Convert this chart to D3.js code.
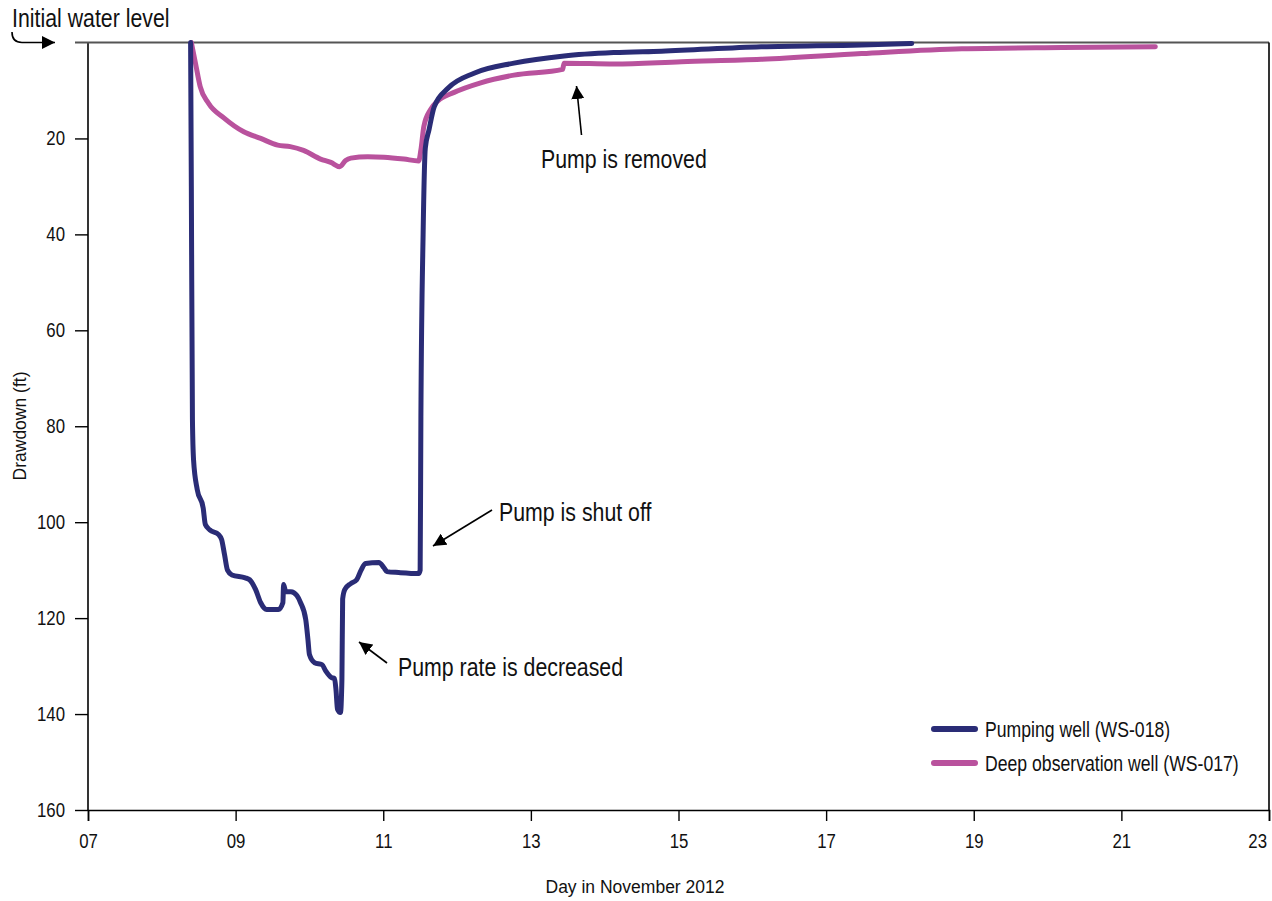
<!DOCTYPE html>
<html lang="en">
<head>
    <meta charset="UTF-8">
    <title>Drawdown, November 2012</title>
    <script src="https://cdnjs.cloudflare.com/ajax/libs/d3/7.8.5/d3.min.js"></script>
    <style>
        body { margin: 0; background: #fff; }
        svg text { font-family: "Liberation Sans", Arial, sans-serif; fill: #111; }
        .title { font-size: 17.5px; }
        .tick text { font-size: 20.5px; }
        .note { font-size: 26px; }
        .legend text { font-size: 21.5px; }
    </style>
</head>
<body>
<svg width="1272" height="901"></svg>

<script>
    // pumping well WS-018 (day in November, drawdown ft)
    const pumpDay = [8.39, 8.40, 8.415, 8.43, 8.48, 8.56, 8.59, 8.65, 8.77, 8.81, 8.85, 8.89, 8.95, 9.13, 9.19,
        9.27, 9.34, 9.42, 9.58, 9.64, 9.65, 9.68, 9.75, 9.83, 9.88, 9.95, 9.98, 10.00, 10.07, 10.17, 10.22,
        10.30, 10.34, 10.36, 10.38, 10.42, 10.44, 10.45, 10.48, 10.56, 10.64, 10.70, 10.76, 10.94, 11.01,
        11.05, 11.21, 11.48, 11.50, 11.51, 11.54, 11.57, 11.62, 11.69, 11.88, 12.23, 12.77, 13.45, 14.13,
        14.77, 16.12, 17.48, 18.16];
    const pumpDrawdown = [0, 30, 78.6, 87, 93.2, 97, 100.5, 101.6, 102.6, 103.6, 106.8, 110, 111, 111.6, 112,
        114, 116.8, 118.2, 118.2, 116.8, 113, 114.5, 114.5, 115.3, 116.8, 120.3, 124.5, 127.6, 129.3, 129.7, 131,
        132.4, 132.6, 135, 139, 139.7, 132.8, 116, 114, 112.8, 112, 110, 108.6, 108.4, 109.5,
        110.3, 110.5, 110.7, 110, 78, 40, 22, 18.2, 13.4, 9.5, 6.4, 4.3, 2.8, 2.1,
        1.8, 0.9, 0.5, 0.2];

    // deep observation well WS-017
    const obsDay = [8.40, 8.456, 8.52, 8.63, 8.84, 9.11, 9.34, 9.57, 9.74, 9.92, 10.15, 10.29, 10.41, 10.49,
        10.56, 10.79, 11.01, 11.28, 11.48, 11.51, 11.55, 11.64, 11.74, 11.96, 12.32, 12.77, 13.43, 13.45,
        14.13, 15.04, 16.12, 17.48, 18.84, 20.2, 21.46];
    const obsDrawdown = [0, 4.3, 9.2, 12.6, 15.7, 18.6, 20, 21.4, 21.7, 22.5, 24.3, 25, 25.9, 24.6,
        24.1, 23.8, 23.9, 24.3, 24.7, 22.4, 17.5, 14, 12.2, 10.4, 8.4, 6.8, 5.6, 4.3,
        4.5, 4.0, 3.5, 2.3, 1.3, 1.05, 0.9];

    const xTicks = [7, 9, 11, 13, 15, 17, 19, 21, 23];
    const yTicks = [20, 40, 60, 80, 100, 120, 140, 160];

    const seriesNames = ["Pumping well (WS-018)", "Deep observation well (WS-017)"];
    const seriesColors = ["#2a2c76", "#b9529d"];

    const svg = d3.select("svg");
    const plotLeft = 88, plotRight = 1269, plotTop = 42.5, plotBottom = 810;

    const x = d3.scaleLinear().domain([7, 23]).range([plotLeft, plotRight]);
    const y = d3.scaleLinear().domain([0, 160]).range([plotTop, plotBottom]);

    // no narrow font installed: squeeze the sans text horizontally instead
    function narrow(sel) {
        sel.each(function () {
            const t = d3.select(this);
            const tx = +t.attr("x") || 0, ty = +t.attr("y") || 0;
            t.attr("x", 0).attr("y", 0)
                .attr("transform", `translate(${tx},${ty}) scale(0.82,1)`);
        });
    }

    // arrowhead marker
    svg.append("defs").append("marker")
        .attr("id", "head")
        .attr("viewBox", "0 0 10 10")
        .attr("refX", 10).attr("refY", 5)
        .attr("markerWidth", 13).attr("markerHeight", 13)
        .attr("markerUnits", "userSpaceOnUse")
        .attr("orient", "auto")
        .append("path")
        .attr("d", "M0,0 L10,5 L0,10 z")
        .attr("fill", "#000");

    // axes
    const xAxis = svg.append("g")
        .attr("transform", `translate(0,${plotBottom})`)
        .call(d3.axisBottom(x).tickValues(xTicks).tickFormat(d3.format("02d")).tickSize(11).tickPadding(12))
        .call(g => g.select(".domain").attr("stroke-width", 1.6))
        .call(g => g.selectAll(".tick line").attr("stroke-width", 1.4));

    svg.append("g")
        .attr("transform", `translate(${plotLeft},0)`)
        .call(d3.axisLeft(y).tickValues(yTicks).tickSize(13).tickPadding(10))
        .call(g => g.select(".domain").attr("d", `M0,${plotTop}V${plotBottom}`).attr("stroke-width", 1.6))
        .call(g => g.selectAll(".tick line").attr("stroke-width", 1.4));

    svg.selectAll("g[font-family]").attr("font-family", null).attr("font-size", null);
    svg.selectAll(".tick text").call(narrow);

    // last label sits inside the frame edge
    xAxis.selectAll(".tick:last-of-type text").attr("text-anchor", "end").attr("x", -3);

    // top line = initial water level, right border
    svg.append("line")
        .attr("x1", plotLeft - 13).attr("x2", plotRight)
        .attr("y1", y(0)).attr("y2", y(0))
        .attr("stroke", "#555").attr("stroke-width", 2.2);
    svg.append("line")
        .attr("x1", plotRight).attr("x2", plotRight)
        .attr("y1", y(0)).attr("y2", plotBottom)
        .attr("stroke", "#000").attr("stroke-width", 1.6);

    // series (observation well drawn first, pumping well on top)
    const line = d3.line().curve(d3.curveMonotoneX).x(d => x(d[0])).y(d => y(d[1]));
    const series = [
        d3.zip(obsDay, obsDrawdown),
        d3.zip(pumpDay, pumpDrawdown)
    ];
    const lineColors = [seriesColors[1], seriesColors[0]];

    svg.append("g")
        .selectAll("path")
        .data(series)
        .join("path")
        .attr("d", line)
        .attr("fill", "none")
        .attr("stroke", (d, i) => lineColors[i])
        .attr("stroke-width", 5)
        .attr("stroke-linejoin", "round")
        .attr("stroke-linecap", "round");

    // axis titles
    svg.append("text")
        .attr("class", "title")
        .attr("x", 635).attr("y", 893)
        .attr("text-anchor", "middle")
        .text("Day in November 2012");
    svg.append("text")
        .attr("class", "title")
        .attr("transform", "translate(26,426) rotate(-90)")
        .attr("text-anchor", "middle")
        .text("Drawdown (ft)");

    // annotations
    svg.append("text").attr("class", "note").attr("x", 12).attr("y", 27).text("Initial water level").call(narrow);
    svg.append("path")
        .attr("d", "M12,32 Q12,42.5 22,42.5 L55,42.5")
        .attr("fill", "none").attr("stroke", "#000").attr("stroke-width", 1.6)
        .attr("marker-end", "url(#head)");

    const notes = [
        { text: "Pump is removed", tx: 541, ty: 168, from: [581.5, 135], to: [576.5, 86] },
        { text: "Pump is shut off", tx: 499, ty: 521, from: [492, 510], to: [433, 546] },
        { text: "Pump rate is decreased", tx: 398, ty: 676, from: [387, 663], to: [359, 642] }
    ];
    notes.forEach(n => {
        svg.append("text").attr("class", "note").attr("x", n.tx).attr("y", n.ty).text(n.text).call(narrow);
        svg.append("line")
            .attr("x1", n.from[0]).attr("y1", n.from[1])
            .attr("x2", n.to[0]).attr("y2", n.to[1])
            .attr("stroke", "#000").attr("stroke-width", 1.6)
            .attr("marker-end", "url(#head)");
    });

    // legend
    const legend = svg.append("g").attr("class", "legend");
    seriesNames.forEach((name, i) => {
        const ly = 729 + i * 34;
        legend.append("line")
            .attr("x1", 934).attr("x2", 975)
            .attr("y1", ly).attr("y2", ly)
            .attr("stroke", seriesColors[i]).attr("stroke-width", 6)
            .attr("stroke-linecap", "round");
        legend.append("text")
            .attr("x", 985).attr("y", ly + 7.5)
            .text(name)
            .call(narrow);
    });
</script>
</body>
</html>
